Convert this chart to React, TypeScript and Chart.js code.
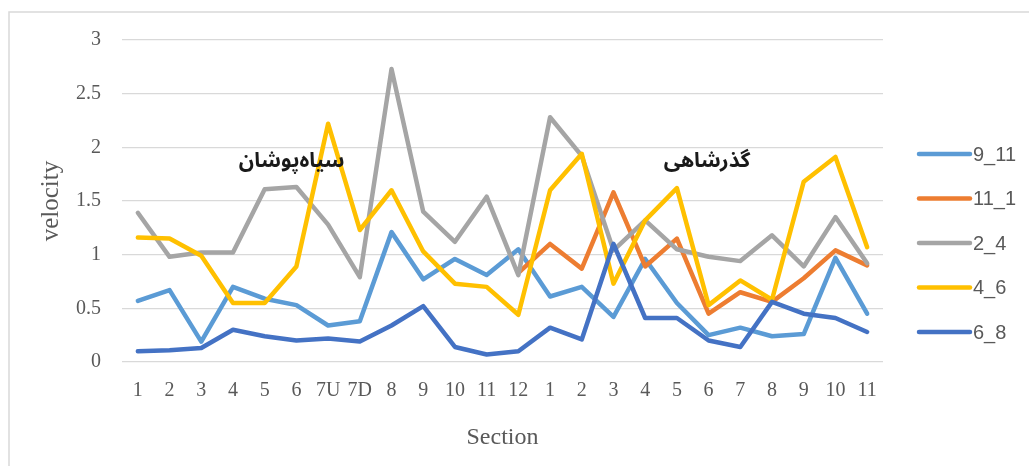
import React, { useEffect, useRef } from "react";
import { Chart, registerables } from "chart.js";

Chart.register(...registerables);

const categories = [
  "1", "2", "3", "4", "5", "6", "7U", "7D", "8", "9", "10", "11", "12",
  "1", "2", "3", "4", "5", "6", "7", "8", "9", "10", "11",
];

const s9_11 = [0.57, 0.67, 0.19, 0.7, 0.59, 0.53, 0.34, 0.38, 1.21, 0.77, 0.96, 0.81, 1.05,
  0.61, 0.7, 0.42, 0.96, 0.55, 0.25, 0.32, 0.24, 0.26, 0.97, 0.45];
const s11_1 = [null, null, null, null, null, null, null, null, null, null, null, null, 0.83,
  1.1, 0.87, 1.58, 0.89, 1.15, 0.45, 0.65, 0.56, 0.78, 1.04, 0.9];
const s2_4 = [1.39, 0.98, 1.02, 1.02, 1.61, 1.63, 1.28, 0.79, 2.73, 1.4, 1.12, 1.54, 0.81,
  2.28, 1.92, 1.04, 1.32, 1.05, 0.98, 0.94, 1.18, 0.89, 1.35, 0.92];
const s4_6 = [1.16, 1.15, 0.99, 0.55, 0.55, 0.89, 2.22, 1.23, 1.6, 1.03, 0.73, 0.7, 0.44,
  1.6, 1.94, 0.73, 1.32, 1.62, 0.53, 0.76, 0.58, 1.68, 1.91, 1.07];
const s6_8 = [0.1, 0.11, 0.13, 0.3, 0.24, 0.2, 0.22, 0.19, 0.34, 0.52, 0.14, 0.07, 0.1,
  0.32, 0.21, 1.1, 0.41, 0.41, 0.2, 0.14, 0.56, 0.45, 0.41, 0.28];

const seriesNames = ["9_11", "11_1", "2_4", "4_6", "6_8"];
const seriesColors = ["#5B9BD5", "#ED7D31", "#A5A5A5", "#FFC000", "#4472C4"];
const seriesValues = [s9_11, s11_1, s2_4, s4_6, s6_8];

const yTicks = [0, 0.5, 1, 1.5, 2, 2.5, 3];

const annotations = [
  { text: "سیاه‌پوشان", index: 4.85, value: 1.85 },
  { text: "گذرشاهی", index: 17.95, value: 1.85 },
];

const W = 1029;
const H = 466;

const extrasPlugin = {
  id: "extras",
  beforeDraw(chart: any) {
    const ctx = chart.ctx;
    ctx.save();
    ctx.fillStyle = "#ffffff";
    ctx.fillRect(0, 0, W, H);
    ctx.strokeStyle = "#d9d9d9";
    ctx.lineWidth = 1.5;
    ctx.strokeRect(9, 12, W + 20, H + 20);
    ctx.restore();
  },
  afterDraw(chart: any) {
    const ctx = chart.ctx;
    const xs = chart.scales.x;
    const ys = chart.scales.y;
    ctx.save();
    ctx.fillStyle = "#1a1a1a";
    ctx.font = "bold 21px 'Noto Sans Arabic', 'DejaVu Sans', sans-serif";
    ctx.textAlign = "center";
    ctx.textBaseline = "middle";
    ctx.direction = "rtl";
    annotations.forEach((a) => {
      ctx.fillText(a.text, xs.getPixelForValue(a.index), ys.getPixelForValue(a.value));
    });
    ctx.direction = "ltr";
    const area = chart.chartArea;
    const lx = area.right + 36;
    const top = 154;
    const gap = 44.5;
    ctx.font = "20px 'Liberation Sans', Arial, sans-serif";
    ctx.textAlign = "left";
    ctx.textBaseline = "middle";
    seriesNames.forEach((name, i) => {
      const y = top + i * gap;
      ctx.strokeStyle = seriesColors[i];
      ctx.lineWidth = 4.5;
      ctx.lineCap = "round";
      ctx.beginPath();
      ctx.moveTo(lx, y);
      ctx.lineTo(lx + 51, y);
      ctx.stroke();
      ctx.fillStyle = "#595959";
      ctx.fillText(name, lx + 54, y + 1);
    });
    ctx.restore();
  },
};

export default function App() {
  const ref = useRef<HTMLCanvasElement>(null);
  useEffect(() => {
    if (!ref.current) return;
    const chart = new Chart(ref.current, {
      type: "line",
      data: {
        labels: categories,
        datasets: seriesValues.map((vals, i) => ({
          label: seriesNames[i],
          data: vals,
          borderColor: seriesColors[i],
          backgroundColor: seriesColors[i],
          borderWidth: 4.5,
          pointRadius: 0,
          pointHoverRadius: 0,
          tension: 0,
          fill: false,
          borderCapStyle: "round",
          borderJoinStyle: "round",
          order: 5 - i,
        })),
      },
      options: {
        animation: false,
        responsive: false,
        maintainAspectRatio: false,
        events: [],
        layout: { padding: { left: 0, top: 40, right: 146, bottom: 0 } },
        plugins: {
          legend: { display: false },
          tooltip: { enabled: false },
          title: { display: false },
        },
        scales: {
          x: {
            type: "category",
            offset: true,
            grid: { display: false, drawTicks: false },
            border: { display: false },
            ticks: {
              color: "#595959",
              font: { family: "'Liberation Serif', 'Times New Roman', serif", size: 20 },
              padding: 17,
              maxRotation: 0,
              autoSkip: false,
            },
            title: {
              display: true,
              text: "Section",
              color: "#595959",
              font: { family: "'Liberation Serif', 'Times New Roman', serif", size: 24 },
              padding: { top: 0, bottom: 14 },
            },
            afterFit(scale: any) {
              scale.height = 104;
            },
          },
          y: {
            min: 0,
            max: 3,
            afterBuildTicks(scale: any) {
              scale.ticks = yTicks.map((v) => ({ value: v }));
            },
            grid: { color: "#d9d9d9", lineWidth: 1.3, drawTicks: false },
            border: { display: false },
            ticks: {
              color: "#595959",
              font: { family: "'Liberation Serif', 'Times New Roman', serif", size: 20 },
              padding: 21,
              callback: (v: any) => String(v),
            },
            title: {
              display: true,
              text: "velocity",
              color: "#595959",
              font: { family: "'Liberation Serif', 'Times New Roman', serif", size: 25 },
              padding: { top: 36, bottom: 0 },
            },
            afterFit(scale: any) {
              scale.width = 122;
            },
          },
        },
      },
      plugins: [extrasPlugin],
    });
    return () => chart.destroy();
  }, []);
  return (
    <div style={{ position: "fixed", left: 0, top: 0, width: W, height: H, background: "#fff" }}>
      <canvas ref={ref} width={W} height={H} style={{ width: W, height: H, display: "block" }} />
    </div>
  );
}
